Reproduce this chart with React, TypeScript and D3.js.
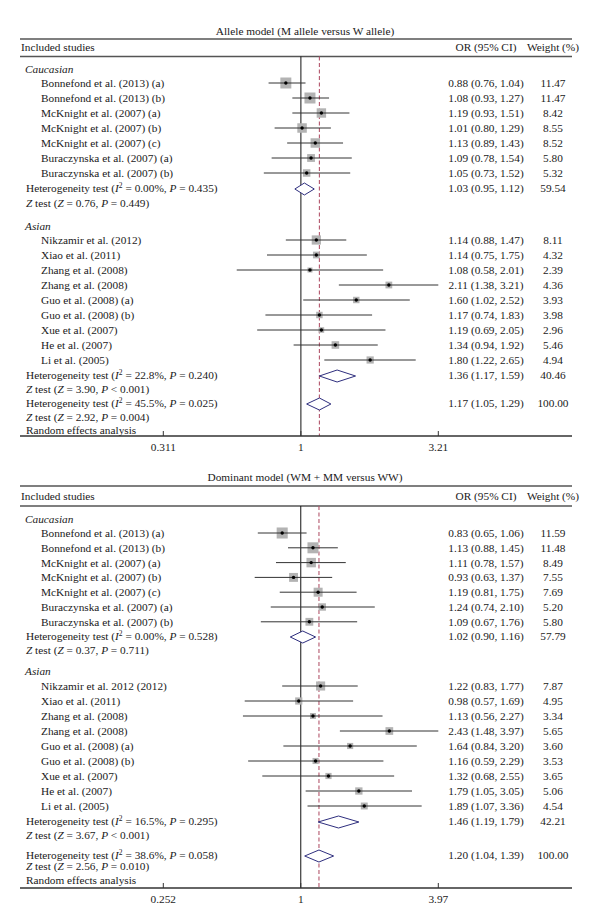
import React from "react";
import * as d3 from "d3";

// ---------- Allele model data ----------
const alleleTitle = "Allele model (M allele versus W allele)";
const alleleCauStudies = [
  "Bonnefond et al. (2013) (a)",
  "Bonnefond et al. (2013) (b)",
  "McKnight et al. (2007) (a)",
  "McKnight et al. (2007) (b)",
  "McKnight et al. (2007) (c)",
  "Buraczynska et al. (2007) (a)",
  "Buraczynska et al. (2007) (b)",
];
const alleleCauOR = [0.88, 1.08, 1.19, 1.01, 1.13, 1.09, 1.05];
const alleleCauLow = [0.76, 0.93, 0.93, 0.8, 0.89, 0.78, 0.73];
const alleleCauHigh = [1.04, 1.27, 1.51, 1.29, 1.43, 1.54, 1.52];
const alleleCauWeight = ["11.47", "11.47", "8.42", "8.55", "8.52", "5.80", "5.32"];

const alleleAsiaStudies = [
  "Nikzamir et al. (2012)",
  "Xiao et al. (2011)",
  "Zhang et al. (2008)",
  "Zhang et al. (2008)",
  "Guo et al. (2008) (a)",
  "Guo et al. (2008) (b)",
  "Xue et al. (2007)",
  "He et al. (2007)",
  "Li et al. (2005)",
];
const alleleAsiaOR = [1.14, 1.14, 1.08, 2.11, 1.6, 1.17, 1.19, 1.34, 1.8];
const alleleAsiaLow = [0.88, 0.75, 0.58, 1.38, 1.02, 0.74, 0.69, 0.94, 1.22];
const alleleAsiaHigh = [1.47, 1.75, 2.01, 3.21, 2.52, 1.83, 2.05, 1.92, 2.65];
const alleleAsiaWeight = ["8.11", "4.32", "2.39", "4.36", "3.93", "3.98", "2.96", "5.46", "4.94"];

// summaries: Caucasian, Asian, Overall
const alleleSumOR = [1.03, 1.36, 1.17];
const alleleSumLow = [0.95, 1.17, 1.05];
const alleleSumHigh = [1.12, 1.59, 1.29];
const alleleSumWeight = ["59.54", "40.46", "100.00"];
const alleleHetI2 = ["0.00%", "22.8%", "45.5%"];
const alleleHetP = ["0.435", "0.240", "0.025"];
const alleleZ = ["0.76", "3.90", "2.92"];
const alleleZP = ["= 0.449", "< 0.001", "= 0.004"];
const alleleTicks = [0.311, 1, 3.21];
const alleleTickLabels = ["0.311", "1", "3.21"];

// ---------- Dominant model data ----------
const domTitle = "Dominant model (WM + MM versus WW)";
const domCauStudies = [
  "Bonnefond et al. (2013) (a)",
  "Bonnefond et al. (2013) (b)",
  "McKnight et al. (2007) (a)",
  "McKnight et al. (2007) (b)",
  "McKnight et al. (2007) (c)",
  "Buraczynska et al. (2007) (a)",
  "Buraczynska et al. (2007) (b)",
];
const domCauOR = [0.83, 1.13, 1.11, 0.93, 1.19, 1.24, 1.09];
const domCauLow = [0.65, 0.88, 0.78, 0.63, 0.81, 0.74, 0.67];
const domCauHigh = [1.06, 1.45, 1.57, 1.37, 1.75, 2.1, 1.76];
const domCauWeight = ["11.59", "11.48", "8.49", "7.55", "7.69", "5.20", "5.80"];

const domAsiaStudies = [
  "Nikzamir et al. 2012 (2012)",
  "Xiao et al. (2011)",
  "Zhang et al. (2008)",
  "Zhang et al. (2008)",
  "Guo et al. (2008) (a)",
  "Guo et al. (2008) (b)",
  "Xue et al. (2007)",
  "He et al. (2007)",
  "Li et al. (2005)",
];
const domAsiaOR = [1.22, 0.98, 1.13, 2.43, 1.64, 1.16, 1.32, 1.79, 1.89];
const domAsiaLow = [0.83, 0.57, 0.56, 1.48, 0.84, 0.59, 0.68, 1.05, 1.07];
const domAsiaHigh = [1.77, 1.69, 2.27, 3.97, 3.2, 2.29, 2.55, 3.05, 3.36];
const domAsiaWeight = ["7.87", "4.95", "3.34", "5.65", "3.60", "3.53", "3.65", "5.06", "4.54"];

const domSumOR = [1.02, 1.46, 1.2];
const domSumLow = [0.9, 1.19, 1.04];
const domSumHigh = [1.16, 1.79, 1.39];
const domSumWeight = ["57.79", "42.21", "100.00"];
const domHetI2 = ["0.00%", "16.5%", "38.6%"];
const domHetP = ["0.528", "0.295", "0.058"];
const domZ = ["0.37", "3.67", "2.56"];
const domZP = ["= 0.711", "< 0.001", "= 0.010"];
const domTicks = [0.252, 1, 3.97];
const domTickLabels = ["0.252", "1", "3.97"];

// ---------- styles / layout ----------
const FONT = "'Liberation Serif', 'Times New Roman', serif";
const FS = 11.3;
const LEFT = 20;
const RIGHT = 572;
const X_NAME = 41;
const X_HET = 26;
const X_GROUP = 25;
const X_OR = 486;
const X_W = 553;
const fmt = d3.format(".2f");

const allelePanel = {
  title: alleleTitle,
  cau: { names: alleleCauStudies, or: alleleCauOR, lo: alleleCauLow, hi: alleleCauHigh, w: alleleCauWeight },
  asia: { names: alleleAsiaStudies, or: alleleAsiaOR, lo: alleleAsiaLow, hi: alleleAsiaHigh, w: alleleAsiaWeight },
  sum: { or: alleleSumOR, lo: alleleSumLow, hi: alleleSumHigh, w: alleleSumWeight, i2: alleleHetI2, hp: alleleHetP, z: alleleZ, zp: alleleZP },
  ticks: alleleTicks,
  tickLabels: alleleTickLabels,
  layout: {
    titleY: 31, line1: 39, headerY: 47, line2: 56.5, cauY: 69, cauStart: 83, cauStep: 15,
    cauHet: 188, cauZ: 203, asiaY: 226, asiaStart: 240, asiaStep: 15, asiaHet: 375, asiaZ: 389,
    allHet: 403, allZ: 417, randomY: 430, axisY: 436, tickLabelY: 447,
  },
};

const domPanel = {
  title: domTitle,
  cau: { names: domCauStudies, or: domCauOR, lo: domCauLow, hi: domCauHigh, w: domCauWeight },
  asia: { names: domAsiaStudies, or: domAsiaOR, lo: domAsiaLow, hi: domAsiaHigh, w: domAsiaWeight },
  sum: { or: domSumOR, lo: domSumLow, hi: domSumHigh, w: domSumWeight, i2: domHetI2, hp: domHetP, z: domZ, zp: domZP },
  ticks: domTicks,
  tickLabels: domTickLabels,
  layout: {
    titleY: 477, line1: 486, headerY: 496, line2: 506, cauY: 519, cauStart: 533, cauStep: 14.8,
    cauHet: 636, cauZ: 650, asiaY: 671, asiaStart: 686, asiaStep: 15, asiaHet: 821, asiaZ: 835,
    allHet: 855, allZ: 866, randomY: 880, axisY: 888, tickLabelY: 899,
  },
};

const boxSize = d3.scaleSqrt().domain([0, 11.5]).range([0, 11]);

function T(props: any) {
  const { x, y, anchor, italic, children } = props;
  return (
    <text
      x={x}
      y={y}
      dy="0.35em"
      textAnchor={anchor || "start"}
      fontStyle={italic ? "italic" : "normal"}
      fontFamily={FONT}
      fontSize={FS}
      fill="#1a1a1a"
    >
      {children}
    </text>
  );
}

function HetText({ y, i2, p }: any) {
  return (
    <T x={X_HET} y={y}>
      Heterogeneity test (<tspan fontStyle="italic">I</tspan>
      <tspan baselineShift="super" fontSize={7.5}>2</tspan>
      <tspan>{` = ${i2},  `}</tspan>
      <tspan fontStyle="italic">P</tspan>
      <tspan>{` = ${p})`}</tspan>
    </T>
  );
}

function ZText({ y, z, p }: any) {
  return (
    <T x={X_HET} y={y}>
      <tspan fontStyle="italic">Z</tspan>
      <tspan> test (</tspan>
      <tspan fontStyle="italic">Z</tspan>
      <tspan>{` = ${z},  `}</tspan>
      <tspan fontStyle="italic">P</tspan>
      <tspan>{` ${p})`}</tspan>
    </T>
  );
}

function Panel({ p }: any) {
  const L = p.layout;
  const x = d3
    .scaleLog()
    .domain([p.ticks[0], p.ticks[2]])
    .range([163.3, 438.3]);

  const study = (g: any, start: number, step: number) =>
    g.names.map((name: string, i: number) => {
      const y = start + i * step;
      const s = boxSize(parseFloat(g.w[i]));
      const cx = x(g.or[i]);
      return (
        <g key={name + i}>
          <T x={X_NAME} y={y}>{name}</T>
          <rect x={cx - s / 2} y={y - s / 2} width={s} height={s} fill="#b3b3b3" />
          <line x1={x(g.lo[i])} x2={x(g.hi[i])} y1={y} y2={y} stroke="#333" strokeWidth={1} />
          <circle cx={cx} cy={y} r={1.7} fill="#000" />
          <T x={X_OR} y={y} anchor="middle">{`${fmt(g.or[i])} (${fmt(g.lo[i])}, ${fmt(g.hi[i])})`}</T>
          <T x={X_W} y={y} anchor="middle">{g.w[i]}</T>
        </g>
      );
    });

  const hetYs = [L.cauHet, L.asiaHet, L.allHet];
  const zYs = [L.cauZ, L.asiaZ, L.allZ];
  const overallX = x(p.sum.or[2]);

  return (
    <g>
      <T x={305} y={L.titleY} anchor="middle">{p.title}</T>
      <line x1={LEFT} x2={RIGHT} y1={L.line1} y2={L.line1} stroke="#555" strokeWidth={1.6} />
      <T x={21} y={L.headerY}>Included studies</T>
      <T x={X_OR} y={L.headerY} anchor="middle">OR (95% CI)</T>
      <T x={X_W} y={L.headerY} anchor="middle">Weight (%)</T>
      <line x1={LEFT} x2={RIGHT} y1={L.line2} y2={L.line2} stroke="#555" strokeWidth={1.6} />

      {/* null line and overall dashed line */}
      <line x1={x(1)} x2={x(1)} y1={L.line2} y2={L.axisY} stroke="#111" strokeWidth={1} />
      <line
        x1={overallX}
        x2={overallX}
        y1={L.line2}
        y2={L.axisY}
        stroke="#b4566c"
        strokeWidth={1.1}
        strokeDasharray="4,2.5"
      />

      <T x={X_GROUP} y={L.cauY} italic>Caucasian</T>
      {study(p.cau, L.cauStart, L.cauStep)}
      <T x={X_GROUP} y={L.asiaY} italic>Asian</T>
      {study(p.asia, L.asiaStart, L.asiaStep)}

      {p.sum.or.map((o: number, i: number) => {
        const y = hetYs[i];
        const lo = x(p.sum.lo[i]);
        const hi = x(p.sum.hi[i]);
        const c = x(o);
        return (
          <g key={"s" + i}>
            <HetText y={y} i2={p.sum.i2[i]} p={p.sum.hp[i]} />
            <ZText y={zYs[i]} z={p.sum.z[i]} p={p.sum.zp[i]} />
            <path
              d={`M${lo},${y + 1}L${c},${y - 5}L${hi},${y + 1}L${c},${y + 7}Z`}
              fill="#fff"
              stroke="#2e2e7e"
              strokeWidth={1}
            />
            <T x={X_OR} y={y} anchor="middle">{`${fmt(o)} (${fmt(p.sum.lo[i])}, ${fmt(p.sum.hi[i])})`}</T>
            <T x={X_W} y={y} anchor="middle">{p.sum.w[i]}</T>
          </g>
        );
      })}

      <T x={X_HET} y={L.randomY}>Random effects analysis</T>

      <line x1={LEFT} x2={RIGHT} y1={L.axisY} y2={L.axisY} stroke="#333" strokeWidth={1.3} />
      {p.ticks.map((t: number, i: number) => (
        <g key={"t" + i}>
          <line x1={x(t)} x2={x(t)} y1={L.axisY - 5} y2={L.axisY} stroke="#333" strokeWidth={1} />
          <T x={x(t)} y={L.tickLabelY} anchor="middle">{p.tickLabels[i]}</T>
        </g>
      ))}
    </g>
  );
}

export default function App() {
  return (
    <svg
      width={600}
      height={924}
      viewBox="0 0 600 924"
      style={{ position: "absolute", left: 0, top: 0, background: "#fff", display: "block" }}
    >
      <rect x={0} y={0} width={600} height={924} fill="#fff" />
      <Panel p={allelePanel} />
      <Panel p={domPanel} />
    </svg>
  );
}
